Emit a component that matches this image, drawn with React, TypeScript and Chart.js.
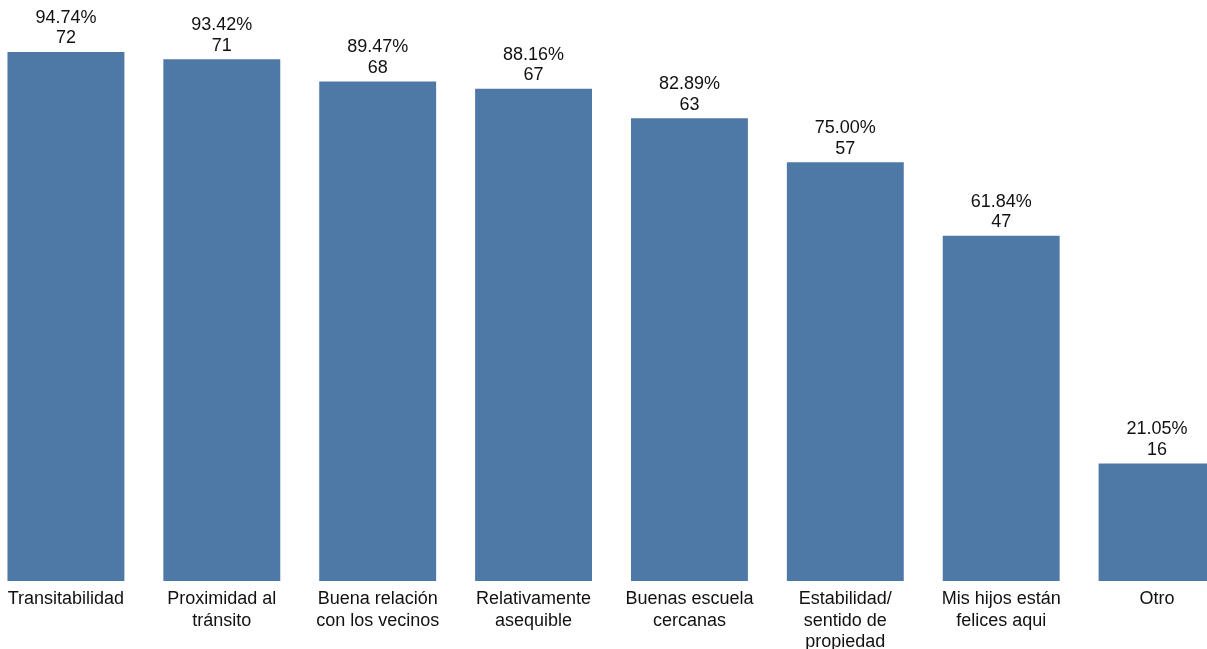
import React, { useEffect, useRef } from "react";
import { Chart, registerables } from "chart.js";

Chart.register(...registerables);

// Reasons respondents gave for liking their neighbourhood
const categories: string[][] = [
  ["Transitabilidad"],
  ["Proximidad al", "tránsito"],
  ["Buena relación", "con los vecinos"],
  ["Relativamente", "asequible"],
  ["Buenas escuela", "cercanas"],
  ["Estabilidad/", "sentido de", "propiedad"],
  ["Mis hijos están", "felices aqui"],
  ["Otro"],
];
const counts: number[] = [72, 71, 68, 67, 63, 57, 47, 16];
const percentLabels: string[] = [
  "94.74%",
  "93.42%",
  "89.47%",
  "88.16%",
  "82.89%",
  "75.00%",
  "61.84%",
  "21.05%",
];

const BAR_COLOR = "#4e79a7";
const FONT = "'Liberation Sans', Arial, sans-serif";

const valueLabels = {
  id: "valueLabels",
  afterDatasetsDraw(chart: any) {
    const ctx = chart.ctx;
    const meta = chart.getDatasetMeta(0);
    ctx.save();
    ctx.font = `18px ${FONT}`;
    ctx.fillStyle = "#111";
    ctx.textAlign = "center";
    ctx.textBaseline = "middle";
    meta.data.forEach((bar: any, i: number) => {
      ctx.fillText(String(counts[i]), bar.x, bar.y - 13.5);
      ctx.fillText(percentLabels[i], bar.x, bar.y - 34);
    });
    ctx.restore();
  },
};

export default function App() {
  const canvasRef = useRef<HTMLCanvasElement | null>(null);

  useEffect(() => {
    if (!canvasRef.current) return;
    const chart = new Chart(canvasRef.current, {
      type: "bar",
      data: {
        labels: categories,
        datasets: [
          {
            data: counts,
            backgroundColor: BAR_COLOR,
            borderWidth: 0,
            barPercentage: 0.75,
            categoryPercentage: 1,
          },
        ],
      },
      options: {
        responsive: false,
        animation: false,
        devicePixelRatio: 1,
        layout: { padding: 0 },
        plugins: {
          legend: { display: false },
          tooltip: { enabled: false },
        },
        scales: {
          x: {
            grid: { display: false, drawTicks: false },
            border: { display: false },
            ticks: {
              color: "#111",
              font: { family: FONT, size: 18, lineHeight: 1.17 },
              padding: 8,
              maxRotation: 0,
              autoSkip: false,
            },
            afterFit: (scale: any) => {
              scale.height = 68;
            },
          },
          y: {
            display: false,
            min: 0,
            max: 79.08,
          },
        },
      },
      plugins: [valueLabels],
    });
    return () => chart.destroy();
  }, []);

  return (
    <div
      style={{
        position: "fixed",
        left: 0,
        top: 0,
        width: 1207,
        height: 649,
        overflow: "hidden",
        background: "#fff",
      }}
    >
      <canvas
        ref={canvasRef}
        width={1247}
        height={649}
        style={{ position: "absolute", left: -12, top: 0 }}
      />
    </div>
  );
}
